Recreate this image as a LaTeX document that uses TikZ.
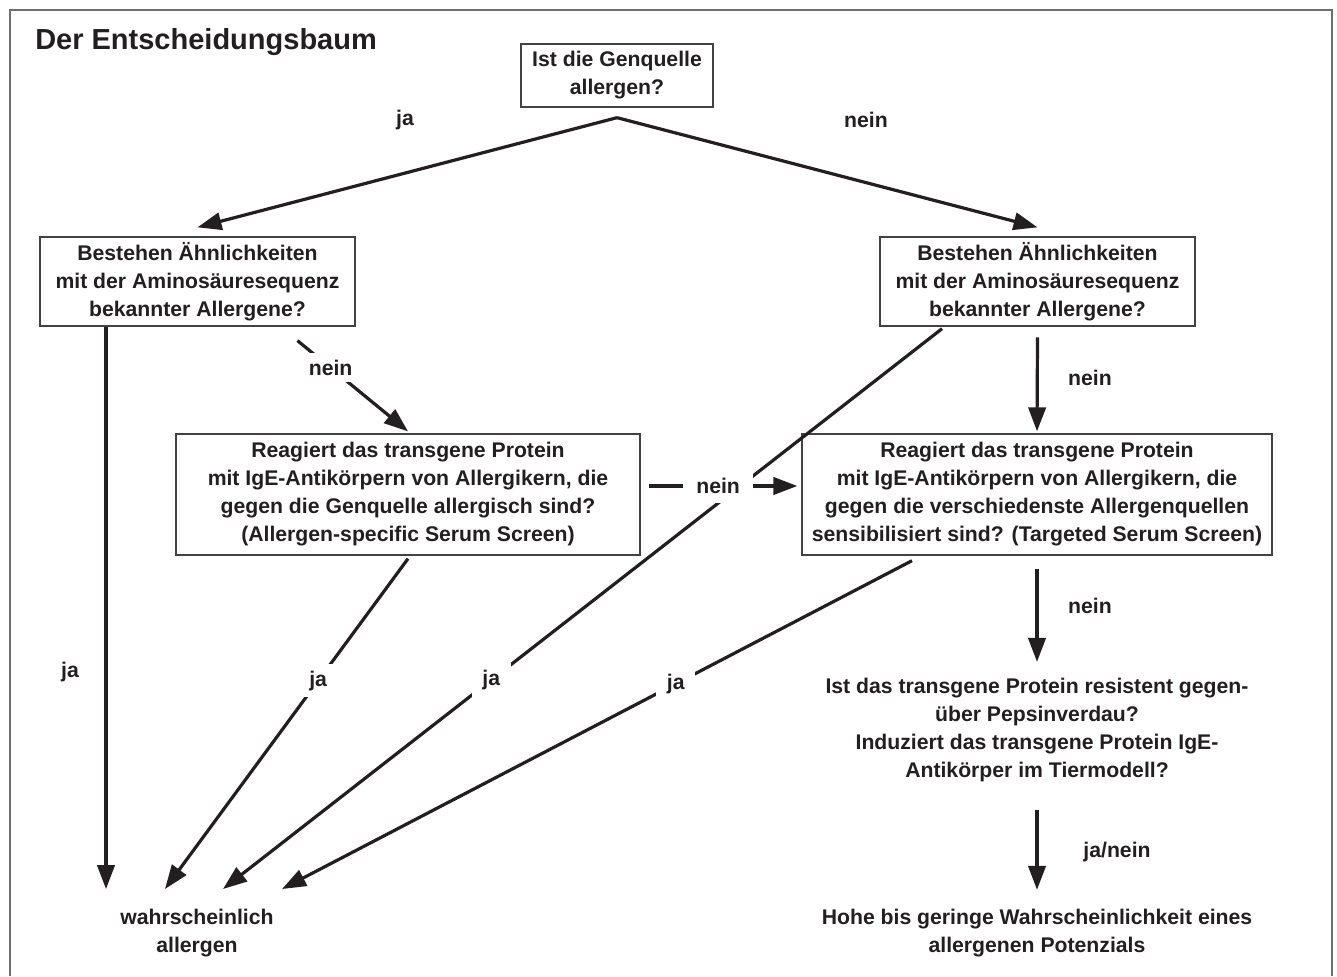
\documentclass[tikz,border=0pt]{standalone}
\usepackage{fontspec}
\setmainfont{Liberation Sans}
\usetikzlibrary{arrows.meta,positioning}
\definecolor{txt}{HTML}{231F20}
\definecolor{rahmen}{HTML}{6D6E71}
\newcommand{\fs}{\fontsize{15.9}{21}\selectfont\bfseries}
\tikzset{
  box/.style={draw=txt!85, line width=1pt, align=center, inner sep=0pt, text=txt, font=\fs},
  plain/.style={align=center, inner sep=0pt, text=txt, font=\fs},
  arr/.style={-{Triangle[length=18pt,width=13pt]}, line width=2.4pt, draw=txt},
  lbl/.style={text=txt, font=\fs, inner sep=2pt},
  lblw/.style={lbl, fill=white, inner xsep=8pt, inner ysep=5pt},
}
\begin{document}
\begin{tikzpicture}[x=0.75pt,y=-0.75pt]
\useasboundingbox (0,0) rectangle (1337,976);
\fill[white] (0,0) rectangle (1337,976);
\draw[rahmen, line width=1.5pt] (10,976) -- (10,10) -- (1332,10) -- (1332,976);

% Titel und Kaesten
\node[anchor=west, inner sep=0pt, text=txt, font=\fontsize{21.75}{26}\selectfont\bfseries] (titel) at (35,42) {Der Entscheidungsbaum};
\node[box, minimum width=144pt, minimum height=47.25pt] (quelle) at (617,75.5) {Ist die Genquelle\\allergen?};
\node[box, minimum width=236.25pt, minimum height=66.75pt] (seqL) at (197.5,281.5) {Bestehen Ähnlichkeiten\\mit der Aminosäuresequenz\\bekannter Allergene?};
\node[box, minimum width=236.25pt, minimum height=66.75pt] (seqR) at (1037.5,281.5) {Bestehen Ähnlichkeiten\\mit der Aminosäuresequenz\\bekannter Allergene?};
\node[box, minimum width=348pt, minimum height=90.75pt] (serumL) at (408,494.5) {Reagiert das transgene Protein\\mit IgE-Antikörpern von Allergikern, die\\gegen die Genquelle allergisch sind?\\(Allergen-specific Serum Screen)};
\node[box, minimum width=352.5pt, minimum height=90.75pt] (serumR) at (1037,494.5) {Reagiert das transgene Protein\\mit IgE-Antikörpern von Allergikern, die\\gegen die verschiedenste Allergenquellen\\sensibilisiert sind? (Targeted Serum Screen)};
\node[plain] (pepsin) at (1037,730) {Ist das transgene Protein resistent gegen-\\über Pepsinverdau?\\Induziert das transgene Protein IgE-\\Antikörper im Tiermodell?};
\node[plain] (wahr) at (197,933) {wahrscheinlich\\allergen};
\node[plain] (potenz) at (1037,933) {Hohe bis geringe Wahrscheinlichkeit eines\\allergenen Potenzials};

% Pfeilspitzen ueber "wahrscheinlich allergen"
\coordinate (gabel) at ([yshift=-7.5pt]quelle.south);
\coordinate (tipA) at (106,889);
\coordinate (tipB) at (165,889);
\coordinate (tipC) at (223,889);
\coordinate (tipD) at (282,889);

% Pfeile
\draw[arr] (gabel) -- ([yshift=6.75pt]seqL.north);
\draw[arr] (gabel) -- ([yshift=6.75pt]seqR.north);
\node[lbl] (jaA) at (405,120) {ja};
\node[lbl] (neinA) at (866,120) {nein};

\draw[arr] (seqL.south -| tipA) -- (tipA);
\node[lbl] (jaB) at (70,672) {ja};
\draw[arr] ([xshift=75pt,yshift=-10.5pt]seqL.south) -- ([yshift=1.5pt]serumL.north) node[lblw, pos=0.3] (neinB) {nein};

\draw[arr] ([xshift=-71.6pt,yshift=-1.5pt]seqR.south) -- (tipC) node[lblw, pos=0.627] (jaC) {ja};
\draw[arr] ([yshift=-2.25pt]serumL.south) -- (tipB) node[lblw, pos=0.37] (jaD) {ja};
\draw[arr] ([xshift=-93.75pt,yshift=-3.75pt]serumR.south) -- (tipD) node[lblw, pos=0.375] (jaE) {ja};

\draw[arr] ([xshift=6pt,yshift=6.4pt]serumL.east) -- ([xshift=-3pt,yshift=6.4pt]serumR.west) node[lblw, pos=0.467, minimum width=52.5pt, minimum height=25.5pt] (neinC) {nein};

\draw[arr] ([yshift=-8pt]seqR.south) -- ([yshift=1.5pt]serumR.north);
\node[lbl] (neinD) at (1090,378) {nein};
\draw[arr] ([yshift=-9.75pt]serumR.south) -- ([yshift=12pt]pepsin.north);
\node[lbl] (neinE) at (1090,606) {nein};
\draw[arr] ([yshift=-21pt]pepsin.south) -- ([yshift=14.25pt]potenz.north);
\node[lbl] (janein) at (1117,852) {ja/nein};
\end{tikzpicture}
\end{document}
